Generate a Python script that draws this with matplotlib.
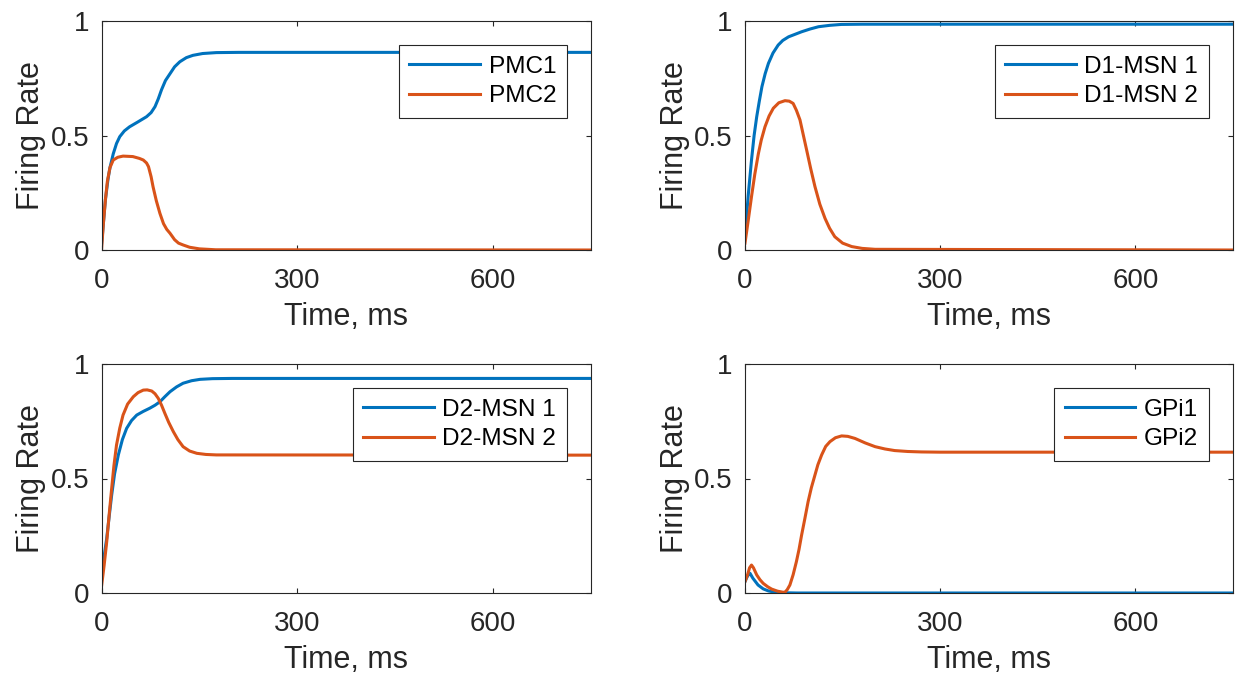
import matplotlib
matplotlib.use("Agg")
import matplotlib.pyplot as plt

# ---------------- data ----------------
pmc1_t = [0, 3, 6, 10, 13, 18, 23, 28, 35, 43, 55, 69, 76, 82, 87, 92, 98, 105, 112, 120, 130, 140, 155, 176, 210, 300, 750]
pmc1_v = [0.02, 0.12, 0.22, 0.31, 0.36, 0.42, 0.465, 0.495, 0.52, 0.538, 0.558, 0.582, 0.60, 0.626, 0.66, 0.70, 0.74, 0.77, 0.80, 0.822, 0.84, 0.85, 0.858, 0.862, 0.863, 0.863, 0.863]
pmc2_t = [0, 3, 6, 9, 13, 18, 25, 33, 48, 58, 64, 69, 72, 76, 79, 84, 89.5, 95, 100, 105, 112, 118, 125, 135, 150, 175, 750]
pmc2_v = [0, 0.12, 0.22, 0.30, 0.36, 0.393, 0.405, 0.41, 0.408, 0.40, 0.393, 0.38, 0.364, 0.32, 0.276, 0.215, 0.16, 0.115, 0.09, 0.073, 0.045, 0.03, 0.022, 0.012, 0.005, 0.001, 0]

d1_1_t = [0, 5, 10, 14, 18, 22, 26, 31, 36, 43, 51, 58, 67, 77, 87, 100, 113, 130, 148, 180, 750]
d1_1_v = [0.06, 0.24, 0.393, 0.50, 0.582, 0.65, 0.713, 0.77, 0.815, 0.86, 0.895, 0.915, 0.931, 0.942, 0.953, 0.965, 0.975, 0.981, 0.985, 0.986, 0.986]
d1_2_t = [0, 5, 10, 15, 20.5, 25, 30.7, 37, 43.5, 52, 61.4, 68, 74, 79, 84.5, 89, 94.7, 101, 107.5, 115, 123, 130, 138, 150, 164, 180, 200, 750]
d1_2_v = [0.03, 0.13, 0.233, 0.33, 0.42, 0.48, 0.538, 0.585, 0.619, 0.643, 0.652, 0.65, 0.64, 0.61, 0.568, 0.51, 0.437, 0.355, 0.277, 0.2, 0.138, 0.095, 0.058, 0.03, 0.015, 0.007, 0.003, 0]

d2_1_t = [0, 4, 8, 12, 15.6, 20, 25.8, 32, 38.5, 46, 54, 64, 74, 82, 89.5, 97, 105, 115, 125, 138, 151, 170, 200, 750]
d2_1_v = [0.079, 0.16, 0.239, 0.34, 0.428, 0.52, 0.603, 0.67, 0.719, 0.753, 0.777, 0.793, 0.807, 0.82, 0.835, 0.857, 0.879, 0.90, 0.916, 0.927, 0.933, 0.936, 0.937, 0.937]
d2_2_t = [0, 4, 8, 12, 15.6, 19, 23, 28, 33, 40, 48.7, 56, 64, 70, 77, 82, 87, 92, 97, 103, 110, 117, 125, 135, 146, 160, 176, 750]
d2_2_v = [0.028, 0.12, 0.224, 0.35, 0.457, 0.555, 0.646, 0.72, 0.777, 0.825, 0.857, 0.875, 0.886, 0.887, 0.882, 0.87, 0.85, 0.82, 0.785, 0.745, 0.705, 0.67, 0.639, 0.62, 0.61, 0.605, 0.603, 0.602]

gpi1_t = [0, 4, 7.7, 12, 20, 28, 36, 45, 61, 80, 750]
gpi1_v = [0.05, 0.075, 0.086, 0.065, 0.035, 0.018, 0.009, 0.004, 0.001, 0, 0]
gpi2_t = [0, 4, 7, 10, 13, 18, 23, 28, 35, 41, 50, 59, 62, 65, 69, 74, 79, 83, 87, 92, 97, 102, 107.5, 112, 117.8, 124, 130.6, 139, 148.5, 158, 169, 185, 200, 215, 230, 250, 271, 300, 750]
gpi2_v = [0.05, 0.08, 0.11, 0.122, 0.11, 0.079, 0.058, 0.042, 0.027, 0.017, 0.008, 0.003, 0.005, 0.015, 0.035, 0.08, 0.137, 0.19, 0.253, 0.325, 0.399, 0.46, 0.515, 0.56, 0.603, 0.64, 0.661, 0.678, 0.686, 0.684, 0.675, 0.655, 0.639, 0.629, 0.622, 0.618, 0.616, 0.615, 0.615]

panels = [
    (pmc1_t, pmc1_v, pmc2_t, pmc2_v, ["PMC1", "PMC2"]),
    (d1_1_t, d1_1_v, d1_2_t, d1_2_v, ["D1-MSN 1", "D1-MSN 2"]),
    (d2_1_t, d2_1_v, d2_2_t, d2_2_v, ["D2-MSN 1", "D2-MSN 2"]),
    (gpi1_t, gpi1_v, gpi2_t, gpi2_v, ["GPi1", "GPi2"]),
]
x_ticks = [0, 300, 600]
y_ticks = [0, 0.5, 1]
y_ticklabels = ["0", "0.5", "1"]
x_label = "Time, ms"
y_label = "Firing Rate"

# ---------------- styling ----------------
plt.rcParams['font.family'] = ['Liberation Sans', 'DejaVu Sans']
BLUE = '#0072BD'
ORANGE = '#D95319'
AXC = '#262626'

W, H = 1235, 676
fig = plt.figure(figsize=(W / 100, H / 100), dpi=100)

lefts = [101.5, 745]
widths = [489.5, 488]
tops = [21, 364]
height = 229

for i, (ta, va, tb, vb, names) in enumerate(panels):
    r, c = divmod(i, 2)
    ax = fig.add_axes([lefts[c] / W, 1 - (tops[r] + height) / H, widths[c] / W, height / H])
    ax.plot(ta, va, color=BLUE, lw=2.2, label=names[0])
    ax.plot(tb, vb, color=ORANGE, lw=2.2, label=names[1])
    ax.set_xlim(0, 750)
    ax.set_ylim(0, 1)
    ax.set_xticks(x_ticks)
    ax.set_yticks(y_ticks)
    ax.set_yticklabels(y_ticklabels)
    ax.tick_params(direction='in', length=3.5, width=0.8, colors=AXC,
                   labelsize=20, top=True, right=True)
    ax.tick_params(axis='x', pad=13)
    ax.tick_params(axis='y', pad=9)
    for s in ax.spines.values():
        s.set_color(AXC)
        s.set_linewidth(0.8)
    ax.set_xlabel(x_label, fontsize=22, color=AXC, labelpad=6)
    ax.set_ylabel(y_label, fontsize=22, color=AXC, labelpad=3)
    leg = ax.legend(loc='upper right', fontsize=17.6, frameon=True, fancybox=False,
                    framealpha=1, edgecolor=AXC, borderaxespad=1.0,
                    handlelength=2.9, handletextpad=0.35, labelspacing=0.3,
                    borderpad=0.42)
    leg.get_frame().set_linewidth(0.8)

fig.savefig("out.png", dpi=100)
